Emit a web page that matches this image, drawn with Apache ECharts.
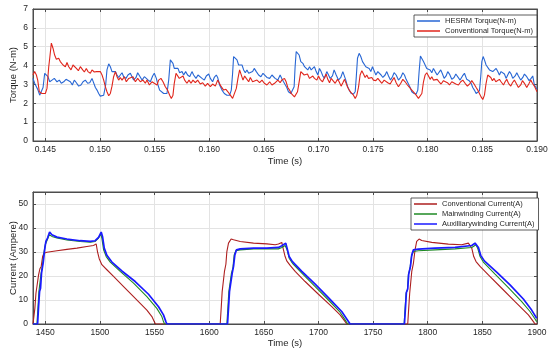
<!DOCTYPE html>
<html><head><meta charset="utf-8">
<script src="https://cdn.jsdelivr.net/npm/echarts@6/dist/echarts.min.js"></script>
<style>html,body{margin:0;padding:0;background:#fff}#c{width:550px;height:355px}</style>
</head><body><div id="c"></div>
<script>
// ---- Top chart: torque (time s, N-m) ----
const hesrmTorque = [[0.14387,3.32],[0.14402,3.06],[0.14418,2.97],[0.14433,2.70],[0.14448,2.43],[0.14463,2.52],[0.14479,2.84],[0.14494,3.59],[0.14509,3.50],[0.14524,3.41],[0.14540,3.14],[0.14561,3.23],[0.14582,3.32],[0.14607,3.14],[0.14628,3.23],[0.14646,3.06],[0.14668,3.14],[0.14689,3.27],[0.14707,3.37],[0.14729,3.14],[0.14747,2.97],[0.14765,3.23],[0.14784,3.09],[0.14805,2.91],[0.14826,2.97],[0.14845,3.14],[0.14866,3.23],[0.14887,3.06],[0.14906,3.09],[0.14927,3.32],[0.14942,3.27],[0.14958,2.84],[0.14973,2.70],[0.14988,2.52],[0.15003,2.38],[0.15019,2.31],[0.15034,2.43],[0.15052,2.97],[0.15064,3.77],[0.15080,4.09],[0.15095,3.94],[0.15110,3.68],[0.15125,3.62],[0.15141,3.68],[0.15156,3.50],[0.15171,3.37],[0.15186,3.50],[0.15202,3.62],[0.15217,3.41],[0.15238,3.32],[0.15256,3.50],[0.15278,3.59],[0.15293,3.41],[0.15308,3.23],[0.15330,3.37],[0.15345,3.62],[0.15363,3.45],[0.15385,3.23],[0.15406,3.41],[0.15424,3.50],[0.15442,3.23],[0.15461,3.14],[0.15482,3.45],[0.15497,3.59],[0.15516,3.32],[0.15531,2.97],[0.15546,2.70],[0.15561,2.61],[0.15583,2.52],[0.15598,2.43],[0.15613,2.52],[0.15629,3.23],[0.15644,4.30],[0.15656,4.39],[0.15668,4.12],[0.15680,3.85],[0.15696,3.77],[0.15714,3.85],[0.15729,3.62],[0.15751,3.68],[0.15766,3.50],[0.15784,3.68],[0.15802,3.50],[0.15821,3.41],[0.15842,3.68],[0.15857,3.50],[0.15879,3.32],[0.15897,3.50],[0.15912,3.59],[0.15934,3.32],[0.15955,3.23],[0.15973,3.45],[0.15995,3.55],[0.16010,3.32],[0.16031,3.14],[0.16046,3.37],[0.16065,3.50],[0.16077,3.37],[0.16095,2.97],[0.16117,2.70],[0.16138,2.52],[0.16162,2.43],[0.16187,2.43],[0.16202,2.70],[0.16214,3.59],[0.16223,4.48],[0.16239,4.51],[0.16254,4.30],[0.16269,4.03],[0.16284,3.94],[0.16300,4.03],[0.16315,3.77],[0.16330,3.62],[0.16345,3.77],[0.16361,3.59],[0.16376,3.50],[0.16397,3.68],[0.16412,3.85],[0.16431,3.68],[0.16452,3.50],[0.16473,3.41],[0.16492,3.59],[0.16507,3.50],[0.16528,3.37],[0.16553,3.32],[0.16574,3.50],[0.16589,3.55],[0.16603,3.32],[0.16628,3.23],[0.16649,3.50],[0.16664,3.32],[0.16680,3.14],[0.16695,3.06],[0.16710,2.84],[0.16725,2.61],[0.16747,2.52],[0.16765,2.49],[0.16777,2.88],[0.16786,3.94],[0.16796,4.74],[0.16811,4.83],[0.16823,4.56],[0.16838,4.21],[0.16857,4.12],[0.16872,3.94],[0.16887,4.03],[0.16902,3.77],[0.16918,3.94],[0.16933,3.77],[0.16948,3.68],[0.16963,3.94],[0.16979,3.68],[0.16994,3.50],[0.17009,3.85],[0.17024,3.68],[0.17040,3.45],[0.17055,3.32],[0.17076,3.68],[0.17092,3.50],[0.17107,3.32],[0.17128,3.45],[0.17143,3.77],[0.17162,3.50],[0.17183,3.23],[0.17204,3.37],[0.17223,3.68],[0.17238,3.59],[0.17250,3.23],[0.17265,2.91],[0.17281,2.70],[0.17299,2.52],[0.17320,2.49],[0.17336,2.61],[0.17345,3.32],[0.17357,4.39],[0.17372,4.65],[0.17387,4.48],[0.17403,4.21],[0.17418,4.12],[0.17433,3.94],[0.17448,3.94],[0.17464,3.85],[0.17479,3.68],[0.17494,3.94],[0.17509,3.73],[0.17525,3.50],[0.17543,3.68],[0.17558,3.77],[0.17573,3.50],[0.17589,3.37],[0.17610,3.50],[0.17625,3.68],[0.17641,3.45],[0.17659,3.23],[0.17677,3.41],[0.17692,3.62],[0.17711,3.50],[0.17732,3.23],[0.17753,3.37],[0.17772,3.62],[0.17787,3.50],[0.17802,3.27],[0.17817,3.20],[0.17839,2.84],[0.17854,2.61],[0.17875,2.52],[0.17894,2.49],[0.17909,2.70],[0.17921,3.68],[0.17933,4.51],[0.17946,4.44],[0.17961,4.21],[0.17976,4.12],[0.17991,3.85],[0.18007,3.94],[0.18022,3.77],[0.18037,3.62],[0.18052,3.85],[0.18068,3.68],[0.18086,3.50],[0.18104,3.59],[0.18119,3.77],[0.18135,3.55],[0.18150,3.32],[0.18168,3.45],[0.18183,3.68],[0.18199,3.55],[0.18220,3.27],[0.18241,3.37],[0.18257,3.55],[0.18275,3.45],[0.18296,3.23],[0.18318,3.45],[0.18336,3.59],[0.18357,3.27],[0.18379,3.20],[0.18397,3.06],[0.18412,2.84],[0.18427,2.70],[0.18443,2.52],[0.18458,2.49],[0.18473,2.66],[0.18485,3.41],[0.18495,4.21],[0.18507,4.48],[0.18519,4.30],[0.18534,4.03],[0.18549,3.98],[0.18565,3.77],[0.18580,3.85],[0.18595,3.68],[0.18610,3.59],[0.18626,3.85],[0.18641,3.68],[0.18656,3.50],[0.18671,3.68],[0.18687,3.77],[0.18702,3.55],[0.18717,3.32],[0.18732,3.50],[0.18748,3.68],[0.18763,3.55],[0.18778,3.32],[0.18800,3.45],[0.18815,3.62],[0.18830,3.45],[0.18851,3.23],[0.18870,3.37],[0.18885,3.55],[0.18906,3.41],[0.18928,3.20],[0.18946,3.32],[0.18961,3.45],[0.18976,2.97],[0.19000,2.74]];

const conventionalTorque = [[0.14387,3.50],[0.14402,3.68],[0.14418,3.50],[0.14430,3.23],[0.14445,2.61],[0.14469,2.52],[0.14500,2.52],[0.14515,2.79],[0.14531,3.94],[0.14540,4.39],[0.14555,5.19],[0.14570,4.92],[0.14585,4.56],[0.14601,4.33],[0.14622,4.39],[0.14637,4.21],[0.14662,4.03],[0.14683,3.94],[0.14698,4.16],[0.14714,3.94],[0.14735,3.77],[0.14753,4.03],[0.14765,4.09],[0.14784,3.85],[0.14802,3.73],[0.14820,3.94],[0.14842,3.77],[0.14857,3.66],[0.14875,3.85],[0.14890,3.68],[0.14912,3.59],[0.14927,3.77],[0.14948,3.66],[0.14967,3.68],[0.14982,3.77],[0.15003,3.68],[0.15019,3.50],[0.15034,3.23],[0.15049,2.88],[0.15064,2.61],[0.15080,2.40],[0.15095,2.52],[0.15110,2.91],[0.15125,3.41],[0.15141,3.68],[0.15156,3.41],[0.15171,3.23],[0.15186,3.37],[0.15202,3.23],[0.15223,3.41],[0.15241,3.14],[0.15263,3.32],[0.15278,3.23],[0.15302,3.41],[0.15324,3.14],[0.15345,3.32],[0.15369,3.14],[0.15394,3.23],[0.15415,3.06],[0.15430,3.23],[0.15452,2.97],[0.15476,3.14],[0.15497,3.06],[0.15522,2.97],[0.15537,3.23],[0.15558,3.32],[0.15577,3.14],[0.15598,2.88],[0.15619,2.70],[0.15638,2.43],[0.15653,2.26],[0.15668,2.43],[0.15680,3.06],[0.15696,3.59],[0.15711,3.62],[0.15726,3.32],[0.15741,3.23],[0.15760,3.45],[0.15775,3.23],[0.15796,3.06],[0.15815,3.23],[0.15833,3.06],[0.15851,3.23],[0.15873,3.09],[0.15894,3.23],[0.15918,3.02],[0.15940,3.09],[0.15964,2.91],[0.15985,3.06],[0.16010,2.88],[0.16031,3.02],[0.16056,2.91],[0.16077,3.23],[0.16095,3.14],[0.16110,2.88],[0.16132,2.70],[0.16153,2.74],[0.16171,2.61],[0.16193,2.43],[0.16214,2.26],[0.16229,2.34],[0.16248,2.79],[0.16263,3.32],[0.16278,3.77],[0.16290,3.68],[0.16309,3.23],[0.16324,3.45],[0.16339,3.32],[0.16361,3.14],[0.16376,3.37],[0.16397,3.14],[0.16415,3.06],[0.16437,3.23],[0.16461,3.09],[0.16483,3.23],[0.16504,3.06],[0.16528,2.97],[0.16553,3.14],[0.16574,2.97],[0.16598,3.06],[0.16628,3.23],[0.16649,3.09],[0.16664,3.23],[0.16689,3.32],[0.16704,3.14],[0.16719,2.84],[0.16735,2.70],[0.16750,2.52],[0.16765,2.49],[0.16780,2.34],[0.16793,2.26],[0.16808,2.61],[0.16823,3.14],[0.16838,3.68],[0.16854,3.77],[0.16869,3.50],[0.16884,3.41],[0.16899,3.55],[0.16918,3.32],[0.16933,3.23],[0.16948,3.45],[0.16963,3.32],[0.16985,3.23],[0.17000,3.45],[0.17015,3.27],[0.17037,3.14],[0.17055,3.37],[0.17070,3.55],[0.17085,3.27],[0.17101,3.09],[0.17116,3.32],[0.17131,3.23],[0.17153,3.06],[0.17174,3.27],[0.17189,3.14],[0.17207,2.91],[0.17223,3.09],[0.17238,3.27],[0.17253,3.06],[0.17268,2.84],[0.17281,2.70],[0.17299,2.56],[0.17320,2.43],[0.17336,2.26],[0.17351,2.43],[0.17366,2.84],[0.17381,3.50],[0.17397,3.73],[0.17412,3.55],[0.17427,3.37],[0.17442,3.50],[0.17458,3.32],[0.17473,3.23],[0.17488,3.37],[0.17503,3.23],[0.17525,3.20],[0.17543,3.32],[0.17558,3.23],[0.17580,3.06],[0.17601,3.23],[0.17616,3.32],[0.17634,3.09],[0.17656,3.02],[0.17677,3.23],[0.17692,3.37],[0.17711,3.09],[0.17732,2.88],[0.17753,3.06],[0.17772,3.27],[0.17793,3.14],[0.17814,2.97],[0.17833,2.84],[0.17854,2.70],[0.17875,2.56],[0.17894,2.43],[0.17915,2.26],[0.17930,2.20],[0.17946,2.52],[0.17961,3.14],[0.17976,3.50],[0.17991,3.62],[0.18007,3.45],[0.18022,3.27],[0.18037,3.41],[0.18052,3.23],[0.18068,3.14],[0.18086,3.27],[0.18104,3.14],[0.18122,3.02],[0.18144,3.20],[0.18159,3.27],[0.18180,3.09],[0.18199,2.97],[0.18220,3.14],[0.18235,3.23],[0.18257,3.02],[0.18281,2.97],[0.18302,3.14],[0.18321,3.23],[0.18342,3.06],[0.18363,2.91],[0.18388,3.06],[0.18403,3.20],[0.18424,3.02],[0.18443,2.84],[0.18458,2.70],[0.18473,2.52],[0.18488,2.34],[0.18504,2.20],[0.18519,2.43],[0.18534,3.06],[0.18549,3.50],[0.18562,3.55],[0.18577,3.37],[0.18592,3.20],[0.18607,3.32],[0.18623,3.14],[0.18641,3.06],[0.18656,3.27],[0.18671,3.14],[0.18693,2.97],[0.18708,3.14],[0.18723,3.27],[0.18739,3.06],[0.18760,2.91],[0.18775,3.09],[0.18793,3.23],[0.18809,3.06],[0.18830,2.84],[0.18851,2.97],[0.18867,3.20],[0.18885,3.06],[0.18906,2.84],[0.18928,3.06],[0.18943,3.23],[0.18958,3.06],[0.18976,2.91],[0.18989,2.84],[0.19000,2.61]];

// ---- Bottom chart: current (time, A) ----
const conventionalCurrent = [[1438.8,0],[1439.3,0],[1440.5,6.5],[1441.5,12.8],[1442.7,13.5],[1443.9,20.5],[1445.1,23.0],[1446.3,24.0],[1447.6,28.1],[1448.8,29.5],[1451.5,29.9],[1460.7,30.5],[1469.8,31.1],[1479.0,31.6],[1488.1,32.3],[1494.2,32.7],[1496.6,33.4],[1497.9,29.9],[1499.4,27.2],[1501.8,24.7],[1506.4,22.6],[1512.5,19.8],[1521.7,15.6],[1530.8,11.4],[1536.9,8.6],[1543.0,5.8],[1547.6,3.1],[1549.7,1.0],[1550.9,0],[1610.1,0],[1611.0,6.5],[1611.9,13.5],[1613.1,14.2],[1614.0,21.9],[1615.3,24.9],[1616.2,30.2],[1617.7,33.7],[1620.1,35.4],[1622.3,35.1],[1628.4,34.4],[1640.6,33.7],[1652.8,33.4],[1660.4,33.0],[1663.4,33.3],[1666.5,34.0],[1668.0,30.9],[1669.5,28.1],[1671.0,26.3],[1674.1,24.4],[1678.7,21.9],[1687.8,17.7],[1700.0,12.4],[1712.2,7.2],[1719.8,3.8],[1724.4,1.0],[1725.9,0],[1781.7,0],[1782.6,6.5],[1783.5,12.8],[1784.5,13.2],[1785.4,21.9],[1786.9,25.3],[1788.4,30.9],[1789.9,34.4],[1792.1,35.4],[1794.5,34.8],[1803.7,34.0],[1818.9,33.3],[1831.1,33.0],[1837.2,33.7],[1838.7,34.4],[1840.3,31.6],[1842.1,28.1],[1844.2,26.0],[1847.9,24.0],[1855.5,20.5],[1867.7,14.9],[1879.9,9.3],[1892.1,3.8],[1896.7,1.0],[1898.2,0],[1900,0]];

const mainwindingCurrent = [[1438.8,0],[1442.4,0],[1443.3,6.5],[1444.2,13.5],[1445.1,14.2],[1446.0,20.5],[1447.6,24.9],[1448.8,29.5],[1450.0,33.0],[1451.5,34.7],[1453.7,37.2],[1456.1,36.5],[1460.7,35.8],[1469.8,35.0],[1482.0,34.4],[1491.2,34.1],[1495.7,34.4],[1498.8,35.8],[1500.9,37.5],[1501.8,35.8],[1503.4,30.9],[1505.8,28.1],[1509.5,25.8],[1518.6,21.9],[1530.8,17.0],[1543.0,11.4],[1552.1,6.5],[1556.7,3.1],[1558.2,1.0],[1559.2,0],[1616.2,0],[1617.1,6.5],[1618.0,13.5],[1619.2,14.2],[1620.4,21.2],[1621.7,23.3],[1622.9,28.8],[1624.4,30.5],[1628.4,30.9],[1640.6,31.3],[1652.8,31.3],[1663.4,31.3],[1666.5,31.9],[1669.5,32.7],[1671.3,30.9],[1673.2,27.4],[1676.2,25.3],[1684.8,21.2],[1697.0,15.6],[1709.1,10.0],[1719.8,4.9],[1724.4,1.7],[1726.8,0],[1778.4,0],[1779.3,6.5],[1780.2,12.8],[1781.4,14.2],[1782.3,20.5],[1783.8,23.3],[1785.1,28.1],[1786.9,30.2],[1791.5,30.5],[1806.7,30.9],[1825.0,31.3],[1840.3,31.9],[1844.2,33.0],[1845.7,31.6],[1847.9,28.1],[1850.9,25.8],[1861.6,20.8],[1873.8,15.2],[1886.0,9.3],[1893.6,5.2],[1898.2,2.1],[1899.7,1.0]];

const auxiliaryCurrent = [[1438.8,0],[1443.0,0],[1443.9,7.2],[1444.8,13.5],[1445.7,14.9],[1446.6,21.2],[1448.2,25.8],[1449.4,30.9],[1450.6,34.4],[1452.1,35.8],[1454.0,38.3],[1456.1,37.2],[1460.7,36.2],[1469.8,35.4],[1482.0,34.7],[1491.2,34.4],[1495.7,34.7],[1498.8,36.1],[1501.2,38.3],[1502.4,36.5],[1504.0,31.6],[1506.4,28.6],[1511.0,25.8],[1520.1,22.1],[1532.3,17.7],[1544.5,12.4],[1553.7,7.2],[1558.2,3.8],[1560.4,1.0],[1561.3,0],[1616.8,0],[1617.7,6.5],[1618.6,13.5],[1619.8,14.2],[1621.1,21.2],[1622.3,24.0],[1623.5,28.8],[1625.0,30.9],[1628.4,31.3],[1640.6,31.6],[1652.8,31.6],[1663.4,31.9],[1666.5,32.6],[1670.1,33.7],[1671.3,31.6],[1673.2,28.1],[1676.2,26.0],[1684.8,21.9],[1697.0,16.6],[1709.1,11.0],[1721.3,5.2],[1725.9,2.1],[1729.0,0],[1778.7,0],[1779.6,6.5],[1780.5,13.2],[1781.7,14.6],[1782.6,20.8],[1784.2,24.0],[1785.4,28.8],[1786.9,30.9],[1791.5,31.2],[1806.7,31.6],[1825.0,31.9],[1840.3,32.7],[1843.3,33.7],[1844.8,33.7],[1846.4,31.9],[1848.5,28.6],[1851.8,26.3],[1863.1,21.6],[1875.3,16.3],[1887.5,10.4],[1895.1,5.8],[1899.7,2.4]];

const torqueNames = ['HESRM Torque(N-m)', 'Conventional Torque(N-m)'];
const currentNames = ['Conventional Current(A)', 'Mainwinding Current(A)', 'Auxilliarywinding Current(A)'];

const FONT = '"Liberation Sans", Arial, sans-serif';
const TXT = '#262626';
const AX = '#4d4d4d';
const GRIDC = '#e3e3e3';

function xAx(grid, min, max, fmt, name, pos, gap) {
  const main = pos === 'bottom';
  return {
    type: 'value', gridIndex: grid, min: min, max: max, splitNumber: 9, position: pos,
    name: main ? name : '', nameLocation: 'middle', nameGap: gap || 0, nameMoveOverlap: false,
    nameTextStyle: {color: TXT, fontSize: 9.5, fontFamily: FONT},
    axisLine: {show: true, onZero: false, lineStyle: {color: AX, width: 1}},
    axisTick: {show: true, inside: true, length: 3, lineStyle: {color: AX}},
    axisLabel: {show: main, color: TXT, fontSize: 8.5, fontFamily: FONT, margin: 4, showMinLabel: false, formatter: fmt},
    splitLine: {show: main, lineStyle: {color: GRIDC, width: 1}}
  };
}
function yAx(grid, min, max, interval, name, pos, gap) {
  const main = pos === 'left';
  return {
    type: 'value', gridIndex: grid, min: min, max: max, interval: interval, position: pos,
    name: main ? name : '', nameLocation: 'middle', nameGap: gap, nameMoveOverlap: false,
    nameTextStyle: {color: TXT, fontSize: 9.5, fontFamily: FONT},
    axisLine: {show: true, lineStyle: {color: AX, width: 1}},
    axisTick: {show: true, inside: true, length: 3, lineStyle: {color: AX}},
    axisLabel: {show: main, color: TXT, fontSize: 8.5, fontFamily: FONT, margin: 5, showMaxLabel: max % interval === 0},
    splitLine: {show: main, lineStyle: {color: GRIDC, width: 1}}
  };
}

const chart = echarts.init(document.getElementById('c'), null, {renderer: 'canvas'});
const lineSeries = (name, data, x, y, color, w) => ({
  name: name, type: 'line', data: data, xAxisIndex: x, yAxisIndex: y, symbol: 'none', showSymbol: false,
  lineStyle: {color: color, width: w}, itemStyle: {color: color}, animation: false, z: 3
});
const legendBase = {
  orient: 'vertical', icon: 'rect', itemWidth: 23, itemHeight: 1.5, itemGap: 0,
  padding: [1, 4, 1, 3], backgroundColor: '#fff', borderColor: '#333', borderWidth: 0.8, borderRadius: 0,
  textStyle: {color: TXT, fontSize: 7.5, fontFamily: FONT, lineHeight: 10}
};

chart.setOption({
  animation: false,
  backgroundColor: '#fff',
  grid: [
    {left: 33, right: 13, top: 9, height: 132, show: true, borderColor: AX, borderWidth: 1, backgroundColor: '#fff', containLabel: false, outerBoundsMode: 'none'},
    {left: 33, right: 13, top: 192, height: 132, show: true, borderColor: AX, borderWidth: 1, backgroundColor: '#fff', containLabel: false, outerBoundsMode: 'none'}
  ],
  xAxis: [
    xAx(0, 0.14387, 0.19, v => v.toFixed(3), 'Time (s)', 'bottom', 15),
    xAx(0, 0.14387, 0.19, null, '', 'top'),
    xAx(1, 1438.8, 1900, v => String(Math.round(v)), 'Time (s)', 'bottom', 14),
    xAx(1, 1438.8, 1900, null, '', 'top')
  ],
  yAxis: [
    yAx(0, 0, 7, 1, 'Torque (N-m)', 'left', 15),
    yAx(0, 0, 7, 1, '', 'right', 0),
    yAx(1, 0, 55, 10, 'Current (Ampere)', 'left', 15),
    yAx(1, 0, 55, 10, '', 'right', 0)
  ],
  legend: [
    Object.assign({}, legendBase, {data: torqueNames, left: 414, top: 15}),
    Object.assign({}, legendBase, {data: currentNames, left: 411, top: 198})
  ],
  series: [
    lineSeries(torqueNames[0], hesrmTorque, 0, 0, '#2766d4', 1.1),
    lineSeries(torqueNames[1], conventionalTorque, 0, 0, '#e0261c', 1.1),
    lineSeries(currentNames[0], conventionalCurrent, 2, 2, '#ad1f1f', 1.1),
    lineSeries(currentNames[1], mainwindingCurrent, 2, 2, '#1f8a24', 1.1),
    lineSeries(currentNames[2], auxiliaryCurrent, 2, 2, '#1a1aff', 1.7)
  ]
});
</script></body></html>
